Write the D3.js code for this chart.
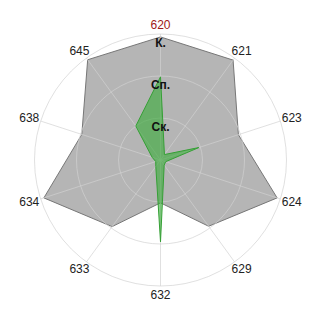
<!DOCTYPE html>
<html>
<head>
<meta charset="utf-8">
<script src="https://cdn.jsdelivr.net/npm/d3@7"></script>
<style>
  html, body { margin: 0; padding: 0; background: #fff; }
  svg { display: block; }
  text { font-family: Arial, "Liberation Sans", sans-serif; }
</style>
</head>
<body>
<svg id="chart" width="320" height="320"></svg>
<script>
'use strict';
// axes clockwise from the top
const axes = ['620', '621', '623', '624', '629', '632', '633', '634', '638', '645'];
const gradeLabels = ['Ск.', 'Сп.', 'К.'];
const gradeValues = [1, 2, 3];
const requiredLevel = [2.93, 2.94, 1.95, 2.92, 1.95, 1.02, 1.96, 2.92, 1.97, 2.95];
const actualLevel = [1.98, 0.16, 0.96, 0.13, 0.15, 1.95, 0.19, 0.12, 0.21, 1.0];

const W = 320, H = 320, cx = 160.5, cy = 160;
const svg = d3.select('#chart');
const r = d3.scaleLinear().domain([0, 3]).range([0, 126]);
const angle = d3.scalePoint().domain(axes).range([0, 2 * Math.PI * (axes.length - 1) / axes.length]);

const g = svg.append('g').attr('transform', `translate(${cx},${cy})`);
const radial = d3.lineRadial().angle((d, i) => angle(axes[i])).radius(d => r(d)).curve(d3.curveLinearClosed);

// required profile
g.append('path').datum(requiredLevel)
  .attr('d', radial)
  .attr('fill', '#b5b5b5')
  .attr('stroke', '#777').attr('stroke-width', 1);

// grid over the grey shape
const grid = g.append('g').attr('stroke', 'rgba(209,209,209,0.68)').attr('fill', 'none');
grid.selectAll('circle').data(gradeValues).join('circle').attr('r', d => r(d));
grid.selectAll('line').data(axes).join('line')
  .attr('x1', 0).attr('y1', 0)
  .attr('x2', d => r(3) * Math.sin(angle(d)))
  .attr('y2', d => -r(3) * Math.cos(angle(d)));

// actual profile
g.append('path').datum(actualLevel)
  .attr('d', radial)
  .attr('fill', 'rgba(40,170,40,0.55)')
  .attr('stroke', '#35a035').attr('stroke-width', 1).attr('stroke-linejoin', 'miter');

// grade labels on the top spoke
g.selectAll('text.grade').data(gradeValues).join('text')
  .attr('class', 'grade')
  .attr('x', 0).attr('y', d => -r(d) + 13)
  .attr('text-anchor', 'middle')
  .attr('font-size', 12).attr('font-weight', 'bold').attr('fill', '#111')
  .text((d, i) => gradeLabels[i]);

// axis labels
g.selectAll('text.axis').data(axes).join('text')
  .attr('class', 'axis')
  .attr('x', d => 138 * Math.sin(angle(d)))
  .attr('y', d => -135 * Math.cos(angle(d)))
  .attr('text-anchor', 'middle').attr('dominant-baseline', 'central')
  .attr('font-size', 12)
  .attr('fill', (d, i) => i === 0 ? '#a01818' : '#222')
  .text(d => d);
</script>
</body>
</html>
